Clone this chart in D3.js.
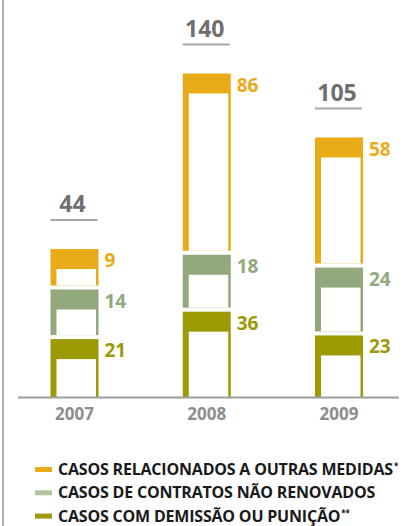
<!DOCTYPE html>
<html>
<head>
<meta charset="utf-8">
<script src="https://cdn.jsdelivr.net/npm/d3@7"></script>
<style>
  body { margin: 0; background: #fff; }
  svg { display: block; font-family: "Open Sans", sans-serif; }
</style>
</head>
<body>
<svg></svg>
<script>
const years = ['2007', '2008', '2009'];
const outras = [9, 86, 58];
const contratos = [14, 18, 24];
const demissao = [21, 36, 23];
const totals = [44, 140, 105];

const series = [
  {label: 'CASOS COM DEMISSÃO OU PUNIÇÃO', sup: '**', values: demissao, color: '#9c9a05', swatch: '#9c9a05'},
  {label: 'CASOS DE CONTRATOS NÃO RENOVADOS', sup: '', values: contratos, color: '#92a87d', swatch: '#afc39f'},
  {label: 'CASOS RELACIONADOS A OUTRAS MEDIDAS', sup: '*', values: outras, color: '#eaab18', swatch: '#eaab18'},
];

const width = 414;
const height = 526;
const baseline = 397.5;
const barWidth = 48;
const gap = 4;
const band = 20;

const svg = d3.select('svg')
    .attr('width', width)
    .attr('height', height);

const x = d3.scalePoint().domain(years).range([74.5, 339]);
// segment height: every block keeps a minimum height, as in the original artwork
const h = d3.scaleLinear().domain([0, 140]).range([20, 276]);

// left frame line
svg.append('line')
    .attr('x1', 3).attr('x2', 3)
    .attr('y1', 0).attr('y2', height)
    .attr('stroke', '#b3b3b3')
    .attr('stroke-width', 2);

years.forEach(function(year, i) {
  const x0 = x(year) - barWidth / 2;
  let y0 = baseline;

  series.forEach(function(s, k) {
    const sh = h(s.values[i]);
    const top = y0 - sh;
    const g = svg.append('g');
    g.append('rect')
        .attr('x', x0).attr('y', top)
        .attr('width', barWidth).attr('height', sh)
        .attr('fill', s.color);
    g.append('rect')
        .attr('x', x0 + 6).attr('y', top + band)
        .attr('width', barWidth - 8.5).attr('height', sh - band)
        .attr('fill', '#fff');
    g.append('text')
        .attr('x', x0 + barWidth + 6)
        .attr('y', top + 18)
        .attr('fill', s.color)
        .attr('font-size', 19)
        .attr('font-weight', 700)
        .text(s.values[i]);
    y0 = top - gap;
  });

  const barTop = y0 + gap;
  svg.append('text')
      .attr('x', x(year) - 2)
      .attr('y', barTop - 37)
      .attr('text-anchor', 'middle')
      .attr('fill', '#6f6f71')
      .attr('font-size', 23)
      .attr('font-weight', 700)
      .text(totals[i]);
  svg.append('line')
      .attr('x1', x0).attr('x2', x0 + barWidth - 1)
      .attr('y1', barTop - 29).attr('y2', barTop - 29)
      .attr('stroke', '#a7a7a9')
      .attr('stroke-width', 2);

  svg.append('text')
      .attr('x', x(year))
      .attr('y', 420)
      .attr('text-anchor', 'middle')
      .attr('fill', '#8d8d8f')
      .attr('font-size', 17)
      .attr('font-weight', 700)
      .text(year);
});

// baseline
svg.append('line')
    .attr('x1', 18).attr('x2', 399)
    .attr('y1', baseline).attr('y2', baseline)
    .attr('stroke', '#9d9d9f')
    .attr('stroke-width', 2);

// legend
const legendOrder = [series[2], series[1], series[0]];
const legend = svg.selectAll('.legend')
    .data(legendOrder)
    .enter().append('g')
    .attr('class', 'legend')
    .attr('transform', function(d, i) {
      return 'translate(0,' + (475 + i * 23.3) + ')';
    });

legend.append('rect')
    .attr('x', 35).attr('y', -8)
    .attr('width', 17).attr('height', 5)
    .attr('fill', function(d) {
      return d.swatch;
    });

const lt = legend.append('text')
    .attr('x', 58)
    .attr('y', 0)
    .attr('fill', '#1a1a1a')
    .attr('font-size', 16)
    .attr('font-weight', 700)
    .attr('letter-spacing', -0.2);
lt.append('tspan')
    .text(function(d) {
      return d.label;
    });
lt.append('tspan')
    .attr('dx', 1)
    .attr('dy', -6)
    .attr('font-size', 8)
    .text(function(d) {
      return d.sup;
    });
</script>
</body>
</html>
